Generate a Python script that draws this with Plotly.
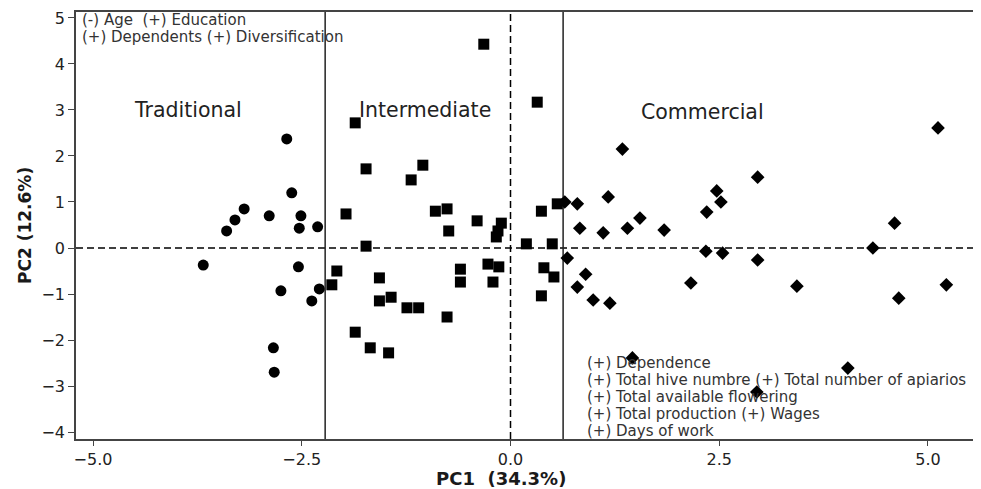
import plotly.graph_objects as go

# ---- data ----
trad_pc1 = [-3.68, -3.40, -3.30, -3.19, -2.89, -2.68, -2.62, -2.51, -2.53, -2.31,
            -2.54, -2.75, -2.38, -2.29, -2.84, -2.83]
trad_pc2 = [-0.37, 0.37, 0.61, 0.85, 0.70, 2.37, 1.20, 0.70, 0.43, 0.46,
            -0.41, -0.93, -1.15, -0.89, -2.17, -2.70]

inter_pc1 = [-1.86, -1.73, -1.97, -0.32, 0.32, -1.05, -1.19, -0.90, -0.76, -0.74,
             -0.40, -0.11, -0.15, -0.17, -1.73, 0.19, 0.50, 0.37, 0.56,
             -2.08, -2.14, -1.57, -1.57, -1.43, -1.24, -1.10, -0.76, -1.86, -1.68, -1.46,
             -0.60, -0.60, -0.27, -0.14, -0.21, 0.40, 0.52, 0.37]
inter_pc2 = [2.72, 1.72, 0.74, 4.43, 3.17, 1.80, 1.48, 0.80, 0.85, 0.37,
             0.59, 0.54, 0.37, 0.24, 0.04, 0.09, 0.09, 0.80, 0.96,
             -0.50, -0.80, -0.65, -1.15, -1.07, -1.30, -1.30, -1.50, -1.83, -2.17, -2.28,
             -0.46, -0.74, -0.35, -0.41, -0.74, -0.43, -0.63, -1.04]

comm_pc1 = [0.65, 0.80, 1.17, 1.34, 1.55, 0.83, 1.11, 1.40, 1.84, 2.96,
            2.47, 2.52, 2.35, 5.12, 4.60, 4.34, 2.34, 2.54, 2.96, 0.68,
            0.90, 0.80, 0.99, 1.19, 2.16, 3.43, 4.65, 5.22, 1.46, 4.04, 2.95]
comm_pc2 = [1.00, 0.96, 1.11, 2.15, 0.65, 0.43, 0.33, 0.43, 0.39, 1.54,
            1.24, 1.00, 0.78, 2.61, 0.54, 0.00, -0.07, -0.11, -0.26, -0.22,
            -0.57, -0.85, -1.13, -1.20, -0.76, -0.83, -1.09, -0.80, -2.39, -2.61, -3.13]

group_boundaries = [-2.22, 0.63]
group_labels = ["Traditional", "Intermediate", "Commercial"]
top_left_text = ["(-) Age\u00a0\u00a0(+) Education", "(+) Dependents (+) Diversification"]
bottom_right_text = ["(+) Dependence",
                     "(+) Total hive numbre (+) Total number of apiarios",
                     "(+) Total available flowering",
                     "(+) Total production (+) Wages",
                     "(+) Days of work"]
x_title = "PC1\u00a0\u00a0(34.3%)"
y_title = "PC2 (12.6%)"

FONT = "DejaVu Sans, Verdana, sans-serif"
INK = "#1a1a1a"

fig = go.Figure()
fig.add_trace(go.Scatter(x=trad_pc1, y=trad_pc2, mode="markers", name="Traditional",
                         marker=dict(symbol="circle", size=11, color="black")))
fig.add_trace(go.Scatter(x=inter_pc1, y=inter_pc2, mode="markers", name="Intermediate",
                         marker=dict(symbol="square", size=11, color="black")))
fig.add_trace(go.Scatter(x=comm_pc1, y=comm_pc2, mode="markers", name="Commercial",
                         marker=dict(symbol="diamond", size=10.5, color="black")))

# reference lines
fig.add_shape(type="line", xref="paper", yref="y", x0=0, x1=1, y0=0, y1=0,
              line=dict(color="black", width=1.5, dash="7px,4px"), layer="below")
fig.add_shape(type="line", xref="x", yref="paper", x0=0, x1=0, y0=0, y1=1,
              line=dict(color="black", width=1.5, dash="7px,4px"), layer="below")
for b in group_boundaries:
    fig.add_shape(type="line", xref="x", yref="paper", x0=b, x1=b, y0=0, y1=1,
                  line=dict(color="#222", width=1.5), layer="below")

# region labels
label_pos = [(0.1238, 0.7705), (0.3856, 0.7705), (0.6928, 0.7658)]
for txt, (px, py) in zip(group_labels, label_pos):
    fig.add_annotation(text=txt, xref="paper", yref="paper", x=px, y=py,
                       xanchor="center", yanchor="middle", showarrow=False,
                       font=dict(family=FONT, size=20.5, color="#222"))

for i, txt in enumerate(top_left_text):
    fig.add_annotation(text=txt, xref="paper", yref="paper", x=0.0044,
                       y=0.981 - i * 0.0395, xanchor="left", yanchor="middle",
                       showarrow=False, font=dict(family=FONT, size=15, color="#333"))

for i, txt in enumerate(bottom_right_text):
    fig.add_annotation(text=txt, xref="paper", yref="paper", x=0.5624,
                       y=0.1787 - i * 0.04, xanchor="left", yanchor="middle",
                       showarrow=False, font=dict(family=FONT, size=15, color="#333"))

# axis titles
fig.add_annotation(text=f"<b>{x_title}</b>", xref="paper", yref="paper", x=0.4696, y=-0.0925,
                   xanchor="center", yanchor="middle", showarrow=False,
                   font=dict(family=FONT, size=18, color=INK))
fig.add_annotation(text=f"<b>{y_title}</b>", xref="paper", yref="paper", x=-0.0564, y=0.501,
                   xanchor="center", yanchor="middle", showarrow=False, textangle=-90,
                   font=dict(family=FONT, size=17, color=INK))

# the page body has an 8px margin, so the figure is 8px smaller and margins are shifted
fig.update_layout(
    width=973, height=481,
    margin=dict(l=68, r=0, t=4, b=50),
    paper_bgcolor="white", plot_bgcolor="white",
    showlegend=False,
    font=dict(family=FONT, color=INK),
)
fig.update_xaxes(range=[-5.204, 5.635], tickvals=[-5, -2.5, 0, 2.5, 5], tickformat=".1f",
                 showgrid=False, zeroline=False, showline=True, linecolor="#444", linewidth=1.5,
                 mirror=True, ticks="outside", ticklen=5, tickcolor="#444",
                 tickfont=dict(family=FONT, size=16, color="#222"))
fig.update_yaxes(range=[-4.152, 5.13], tickvals=list(range(-4, 6)),
                 showgrid=False, zeroline=False, showline=True, linecolor="#444", linewidth=1.5,
                 ticks="outside", ticklen=6, tickcolor="#444",
                 tickfont=dict(family=FONT, size=16, color="#222"))

fig.write_html("out.html")
